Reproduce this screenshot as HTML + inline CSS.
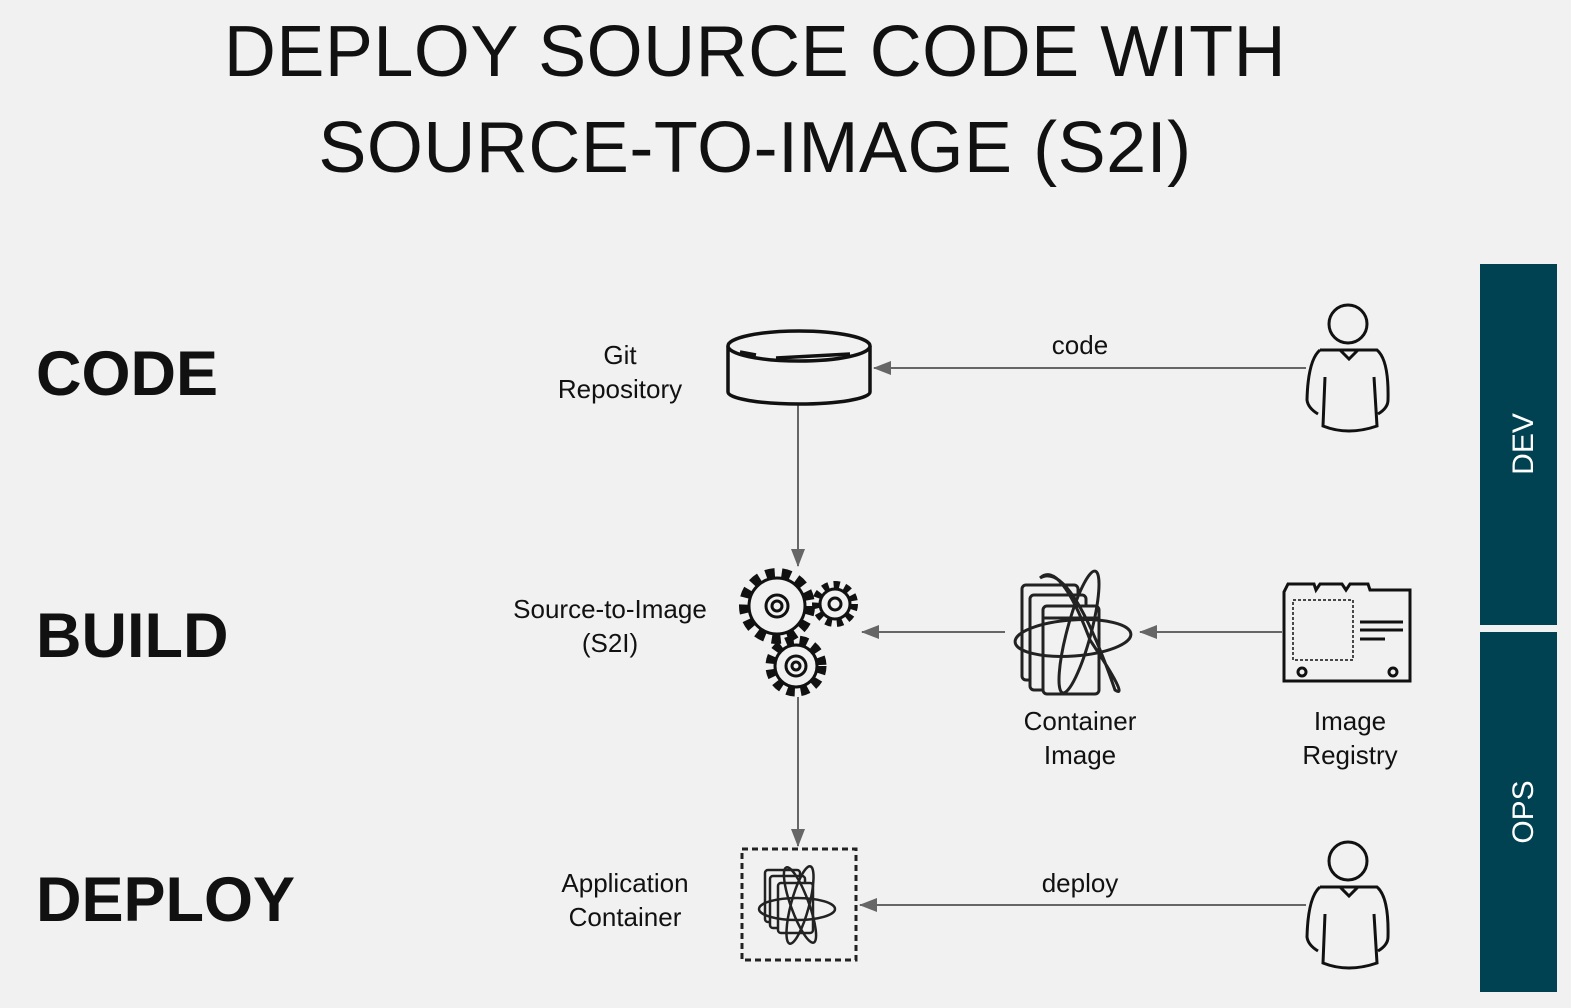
<!DOCTYPE html>
<html><head><meta charset="utf-8"><style>
html,body{margin:0;padding:0;background:#f1f1f1;}
body{width:1571px;height:1008px;position:relative;overflow:hidden;font-family:"Liberation Sans",sans-serif;}
.t{position:absolute;left:0;width:1510px;text-align:center;font-size:72px;color:#111;line-height:96px;letter-spacing:0.5px;}
.h{position:absolute;left:36px;font-size:63px;font-weight:bold;color:#111;}
.l{position:absolute;font-size:26px;color:#111;text-align:center;line-height:34px;}
</style></head><body>
<div class="t" style="top:4px">DEPLOY SOURCE CODE WITH</div>
<div class="t" style="top:100px">SOURCE-TO-IMAGE (S2I)</div>
<div class="h" style="top:338px">CODE</div>
<div class="h" style="top:600px">BUILD</div>
<div class="h" style="top:864px">DEPLOY</div>
<div class="l" style="left:520px;top:338px;width:200px">Git<br>Repository</div>
<div class="l" style="left:490px;top:592px;width:240px">Source-to-Image<br>(S2I)</div>
<div class="l" style="left:980px;top:704px;width:200px">Container<br>Image</div>
<div class="l" style="left:1260px;top:704px;width:180px">Image<br>Registry</div>
<div class="l" style="left:525px;top:866px;width:200px">Application<br>Container</div>
<div class="l" style="left:1000px;top:328px;width:160px">code</div>
<div class="l" style="left:1000px;top:866px;width:160px">deploy</div>
<svg width="1571" height="1008" style="position:absolute;left:0;top:0">
<defs>
<marker id="b" markerWidth="18" markerHeight="14" refX="17" refY="7" orient="auto" markerUnits="userSpaceOnUse"><path d="M0,0 L18,7 L0,14z" fill="#666"/></marker></defs>
<rect x="1480" y="264" width="77" height="361" fill="#004152"/>
<rect x="1480" y="632" width="77" height="360" fill="#004152"/>
<text transform="translate(1533,444) rotate(-90)" text-anchor="middle" fill="#fff" font-size="30" font-family="Liberation Sans">DEV</text>
<text transform="translate(1533,812) rotate(-90)" text-anchor="middle" fill="#fff" font-size="30" font-family="Liberation Sans">OPS</text>
<g stroke="#666" stroke-width="2" fill="none">
<line x1="1306" y1="368" x2="874" y2="368" marker-end="url(#b)"/>
<line x1="798" y1="405" x2="798" y2="566" marker-end="url(#b)"/>
<line x1="1005" y1="632" x2="862" y2="632" marker-end="url(#b)"/>
<line x1="1282" y1="632" x2="1140" y2="632" marker-end="url(#b)"/>
<line x1="798" y1="697" x2="798" y2="846" marker-end="url(#b)"/>
<line x1="1306" y1="905" x2="860" y2="905" marker-end="url(#b)"/>
</g>
<g fill="none" stroke="#111" stroke-width="3.5">
<path d="M728,346 L728,392 A71,12 0 0 0 870,392 L870,346"/>
<ellipse cx="799" cy="346" rx="71" ry="15" fill="#f1f1f1"/>
<path d="M740,352 L756,355 M776,358 L850,354"/>
</g>
<g fill="#f1f1f1" stroke="#111">
<circle cx="777" cy="606" r="33" stroke-width="10" stroke-dasharray="9 7"/>
<circle cx="777" cy="606" r="28" stroke-width="3"/>
<circle cx="777" cy="606" r="11" stroke-width="3"/>
<circle cx="777" cy="606" r="5" stroke-width="3"/>
<circle cx="835" cy="604" r="19" stroke-width="8" stroke-dasharray="6 5"/>
<circle cx="835" cy="604" r="15" stroke-width="3"/>
<circle cx="835" cy="604" r="6" stroke-width="3"/>
<circle cx="796" cy="666" r="26" stroke-width="9" stroke-dasharray="8 6"/>
<circle cx="796" cy="666" r="21" stroke-width="3"/>
<circle cx="796" cy="666" r="10" stroke-width="3"/>
<circle cx="796" cy="666" r="4" stroke-width="3"/>
</g>
<g fill="#f1f1f1" stroke="#222" stroke-width="3">
<rect x="1022" y="585" width="56" height="95" rx="4"/>
<rect x="1030" y="595" width="56" height="95" rx="4"/>
<rect x="1043" y="606" width="56" height="88" rx="4"/>
<line x1="1043" y1="618" x2="1099" y2="618"/>
<ellipse cx="1073" cy="638" rx="58" ry="18" fill="none" transform="rotate(-4 1073 638)"/>
<path d="M1040,578 Q1070,560 1115,690 Q1130,700 1090,640 Q1060,560 1040,578" fill="none"/>
<ellipse cx="1079" cy="632" rx="12" ry="63" fill="none" transform="rotate(15 1079 632)"/>
</g>
<g fill="none" stroke="#111" stroke-width="3">
<path d="M1284,681 L1284,592 L1288,584 L1314,584 L1316,590 L1320,584 L1342,584 L1346,590 L1350,584 L1368,584 L1370,590 L1410,590 L1410,681 Z"/>
<rect x="1293" y="600" width="60" height="60" stroke-width="1.5" stroke-dasharray="3 2"/>
<path d="M1360,622 H1403 M1360,630 H1403 M1360,639 H1385"/>
<circle cx="1302" cy="672" r="4"/><circle cx="1393" cy="672" r="4"/>
</g>
<g id="p" fill="none" stroke="#111" stroke-width="3">
<circle cx="1348" cy="324" r="19"/>
<path d="M1320,350 L1377,350 Q1389,360 1388,400 Q1388,408 1378,414 M1320,350 Q1308,360 1307,400 Q1308,408 1318,414 M1340,350 L1349,359 L1358,350 M1325,377 L1323,426 Q1348,436 1377,426 L1374,377"/>
</g>
<use href="#p" transform="translate(0,537)"/>
<rect x="742" y="849" width="114" height="111" fill="none" stroke="#222" stroke-width="3" stroke-dasharray="6 4"/>
<g fill="#f1f1f1" stroke="#222" stroke-width="2.5">
<rect x="765" y="870" width="35" height="52" rx="3"/>
<rect x="770" y="876" width="35" height="52" rx="3"/>
<rect x="778" y="883" width="35" height="50" rx="3"/>
<ellipse cx="797" cy="909" rx="38" ry="11" fill="none"/>
<ellipse cx="800" cy="905" rx="9" ry="40" fill="none" transform="rotate(15 800 905)"/>
<ellipse cx="800" cy="905" rx="9" ry="40" fill="none" transform="rotate(-20 800 905)"/>
</g>
</svg>
</body></html>
